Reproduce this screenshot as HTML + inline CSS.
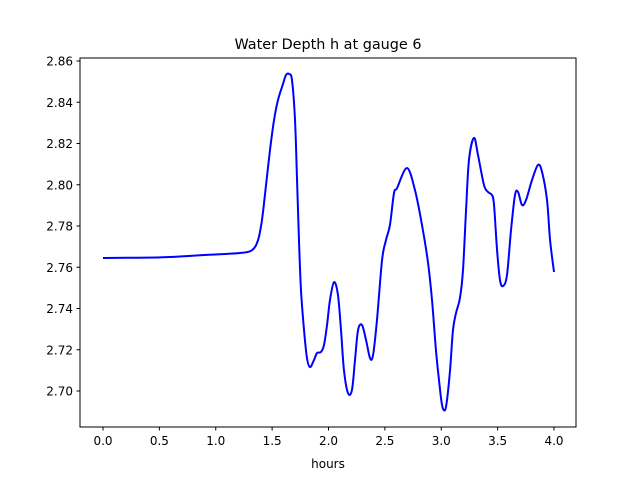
<!DOCTYPE html>
<html><head><meta charset="utf-8"><style>
body{margin:0;background:#fff;}
svg text{font-family:"DejaVu Sans","Liberation Sans",sans-serif;}
</style></head><body>
<svg id="chart" width="640" height="480" xmlns="http://www.w3.org/2000/svg">
<rect x="0" y="0" width="640" height="480" fill="#fff"/>
<text x="328" y="49" font-size="14.4" text-anchor="middle">Water Depth h at gauge 6</text>
<text x="328" y="468" font-size="12" text-anchor="middle">hours</text>
<g id="xticks"></g>
<g id="yticks"></g>
<path id="line" fill="none" stroke="#0000ff" stroke-width="2" stroke-linejoin="round"/>
<rect x="80" y="58" width="496" height="369" fill="none" stroke="#000" stroke-width="1"/>
</svg>
<script>
const hours=[0,0.506,0.86,0.993,1.215,1.322,1.375,1.41,1.446,1.481,1.517,1.552,1.596,1.623,1.65,1.676,1.703,1.721,1.738,1.756,1.783,1.809,1.836,1.871,1.898,1.933,1.96,1.987,2.013,2.049,2.084,2.111,2.137,2.173,2.208,2.235,2.262,2.297,2.333,2.368,2.395,2.43,2.475,2.51,2.545,2.581,2.608,2.696,2.767,2.829,2.882,2.918,2.953,2.98,3.007,3.033,3.051,3.078,3.104,3.131,3.166,3.193,3.22,3.246,3.29,3.326,3.379,3.415,3.45,3.468,3.495,3.521,3.548,3.583,3.619,3.654,3.681,3.716,3.752,3.805,3.858,3.894,3.938,3.965,4.0];
const depth=[2.7645,2.7648,2.7658,2.7662,2.7669,2.7683,2.7732,2.7829,2.7999,2.8168,2.8314,2.8411,2.8488,2.8532,2.8537,2.8508,2.8314,2.8023,2.7732,2.7489,2.7295,2.716,2.7116,2.715,2.7184,2.7189,2.7223,2.732,2.7441,2.7528,2.7465,2.7295,2.7101,2.699,2.7005,2.715,2.7295,2.732,2.7247,2.716,2.7174,2.7344,2.7635,2.7732,2.7805,2.796,2.7984,2.8081,2.7974,2.7805,2.7625,2.7441,2.7198,2.7053,2.6932,2.6907,2.6956,2.7101,2.7295,2.7378,2.7451,2.7587,2.7878,2.812,2.8227,2.8144,2.7999,2.7965,2.795,2.7902,2.7683,2.7538,2.7509,2.7562,2.7781,2.795,2.7965,2.7902,2.7926,2.8023,2.8096,2.8062,2.7926,2.7732,2.7577];
const xTickLabels=["0.0","0.5","1.0","1.5","2.0","2.5","3.0","3.5","4.0"];
const yTickLabels=["2.70","2.72","2.74","2.76","2.78","2.80","2.82","2.84","2.86"];
const NS="http://www.w3.org/2000/svg";
function xs(t){return 103+t*112.75;}
function ys(v){return 391-(v-2.70)*2062.5;}
const xg=document.getElementById('xticks'),yg=document.getElementById('yticks');
xTickLabels.forEach(l=>{const x=xs(parseFloat(l));
 const ln=document.createElementNS(NS,'line');
 
 
 ln.setAttribute('x1',x);ln.setAttribute('x2',x);ln.setAttribute('y1',427);ln.setAttribute('y2',430.5);ln.setAttribute('stroke','#000');xg.appendChild(ln);
 const tx=document.createElementNS(NS,'text');
 
 
 tx.setAttribute('x',x);tx.setAttribute('y',445);tx.setAttribute('font-size','12');tx.setAttribute('text-anchor','middle');tx.textContent=l;xg.appendChild(tx);});
yTickLabels.forEach(l=>{const y=ys(parseFloat(l));
 const ln=document.createElementNS(NS,'line');
 
 
 ln.setAttribute('x1',76.5);ln.setAttribute('x2',80);ln.setAttribute('y1',y);ln.setAttribute('y2',y);ln.setAttribute('stroke','#000');yg.appendChild(ln);
 const tx=document.createElementNS(NS,'text');
 
 
 tx.setAttribute('x',73);tx.setAttribute('y',y+4.5);tx.setAttribute('font-size','12');tx.setAttribute('text-anchor','end');tx.textContent=l;yg.appendChild(tx);});
const P=hours.map((t,i)=>[xs(t),ys(depth[i])]);
let d='M'+P[0][0]+','+P[0][1];
for(let i=0;i<P.length-1;i++){const p0=P[Math.max(0,i-1)],p1=P[i],p2=P[i+1],p3=P[Math.min(P.length-1,i+2)];
 const c1=[p1[0]+(p2[0]-p0[0])/6,p1[1]+(p2[1]-p0[1])/6],c2=[p2[0]-(p3[0]-p1[0])/6,p2[1]-(p3[1]-p1[1])/6];
 d+=' C'+c1[0]+','+c1[1]+' '+c2[0]+','+c2[1]+' '+p2[0]+','+p2[1];}
document.getElementById('line').setAttribute('d',d);
</script>
</body></html>
